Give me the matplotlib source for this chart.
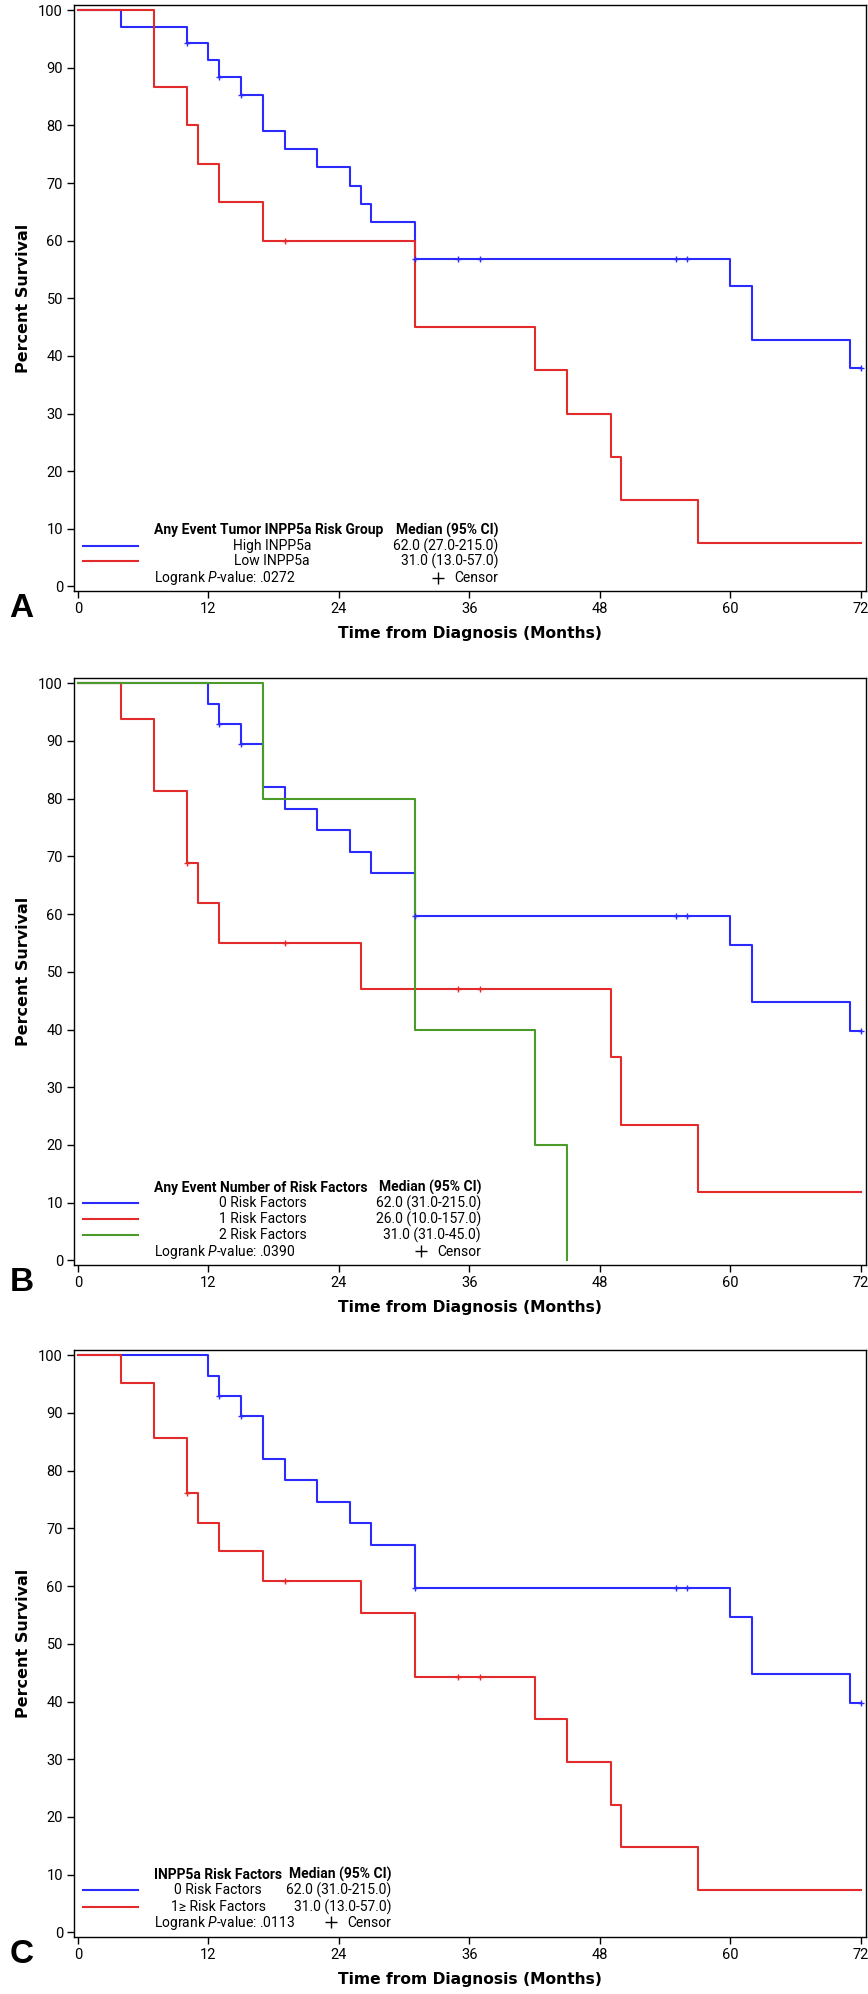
import numpy as np
import matplotlib
matplotlib.use("Agg")
import matplotlib.pyplot as plt

plt.rcParams["font.family"] = ["Roboto", "DejaVu Sans"]
plt.rcParams["mathtext.fontset"] = "custom"
plt.rcParams["mathtext.rm"] = "Roboto"
plt.rcParams["mathtext.it"] = "Roboto:italic"

BLUE = "#2b2bff"
RED = "#e32b2b"
GREEN = "#4c9a2a"

# Panel A: tumor INPP5a risk group
a_high_t = [0, 4, 10, 12, 13, 15, 17, 19, 22, 25, 26, 27, 31, 60, 62, 71, 72]
a_high_s = [100, 97.1, 94.3, 91.4, 88.4, 85.3, 79.0, 75.9, 72.7, 69.5, 66.3, 63.2, 56.9, 52.1, 42.7, 37.9, 37.9]
a_high_c = [10, 13, 15, 31, 35, 37, 55, 56, 72]
a_low_t = [0, 7, 10, 11, 13, 17, 31, 42, 45, 49, 50, 57, 72]
a_low_s = [100, 86.7, 80.0, 73.3, 66.7, 60.0, 45.0, 37.5, 30.0, 22.5, 15.0, 7.5, 7.5]
a_low_c = [19]

# Panel B: number of risk factors
b_zero_t = [0, 12, 13, 15, 17, 19, 22, 25, 27, 31, 60, 62, 71, 72]
b_zero_s = [100, 96.4, 93.0, 89.4, 82.0, 78.2, 74.5, 70.8, 67.1, 59.6, 54.6, 44.7, 39.7, 39.7]
b_zero_c = [13, 15, 31, 55, 56, 72]
b_one_t = [0, 4, 7, 10, 11, 13, 26, 49, 50, 57, 72]
b_one_s = [100, 93.8, 81.3, 68.8, 61.9, 55.0, 47.1, 35.3, 23.5, 11.8, 11.8]
b_one_c = [10, 19, 35, 37]
b_two_t = [0, 17, 31, 42, 45]
b_two_s = [100, 80, 40, 20, 0]
b_two_c = []

# Panel C: INPP5a risk factors
c_zero_t = [0, 12, 13, 15, 17, 19, 22, 25, 27, 31, 60, 62, 71, 72]
c_zero_s = [100, 96.4, 93.0, 89.4, 82.0, 78.3, 74.6, 70.9, 67.1, 59.6, 54.6, 44.7, 39.8, 39.8]
c_zero_c = [13, 15, 31, 55, 56, 72]
c_one_t = [0, 4, 7, 10, 11, 13, 17, 26, 31, 42, 45, 49, 50, 57, 72]
c_one_s = [100, 95.2, 85.7, 76.2, 71.0, 66.1, 60.9, 55.3, 44.3, 36.9, 29.5, 22.1, 14.8, 7.4, 7.4]
c_one_c = [10, 19, 35, 37]

a_header = ("Any Event Tumor INPP5a Risk Group", "Median (95% CI)")
a_groups = ["High INPP5a", "Low INPP5a"]
a_medians = ["62.0 (27.0-215.0)", "31.0 (13.0-57.0)"]
b_header = ("Any Event Number of Risk Factors", "Median (95% CI)")
b_groups = ["0 Risk Factors", "1 Risk Factors", "2 Risk Factors"]
b_medians = ["62.0 (31.0-215.0)", "26.0 (10.0-157.0)", "31.0 (31.0-45.0)"]
c_header = ("INPP5a Risk Factors", "Median (95% CI)")
c_groups = ["0 Risk Factors", "1\u2265 Risk Factors"]
c_medians = ["62.0 (31.0-215.0)", "31.0 (13.0-57.0)"]
pvals = [".0272", ".0390", ".0113"]

xticks = [0, 12, 24, 36, 48, 60, 72]
yticks = list(range(0, 101, 10))


def curve(ax, t, s, c, color):
    ax.step(t, s, where="post", color=color, lw=1.5, zorder=3)
    t = np.asarray(t)
    s = np.asarray(s)
    if c:
        idx = np.searchsorted(t, c, side="right") - 1
        ax.plot(c, s[idx], ls="none", marker="+", ms=5, mew=1.0, color=color, zorder=4)


def legend(ax, header, groups, medians, colors, pval, ys, gx, rx):
    fs = 10
    ax.text(0.101, ys[0], header[0], transform=ax.transAxes, fontsize=fs,
            fontweight="bold", ha="left", va="center")
    ax.text(rx, ys[0], header[1], transform=ax.transAxes, fontsize=fs,
            fontweight="bold", ha="right", va="center")
    for i, (g, m, col) in enumerate(zip(groups, medians, colors)):
        y = ys[1 + i]
        ax.plot([0.011, 0.081], [y, y], transform=ax.transAxes, color=col, lw=1.5)
        ax.text(gx, y, g, transform=ax.transAxes, fontsize=fs, ha="center", va="center")
        ax.text(rx, y, m, transform=ax.transAxes, fontsize=fs, ha="right", va="center")
    ax.text(0.101, ys[-1], "Logrank $\\it{P}$-value: " + pval, transform=ax.transAxes,
            fontsize=fs, ha="left", va="center")
    ax.text(rx, ys[-1], "Censor", transform=ax.transAxes, fontsize=fs,
            ha="right", va="center")
    ax.plot([rx - 0.076], [ys[-1] + 0.001], transform=ax.transAxes, ls="none",
            marker="+", ms=8, mew=1.0, color="black")


fig = plt.figure(figsize=(8.68, 19.94), dpi=100)
rects = [
    [74 / 868, 1 - 591 / 1994, 792 / 868, 586 / 1994],
    [74 / 868, 1 - 1265 / 1994, 792 / 868, 587 / 1994],
    [74 / 868, 1 - 1937 / 1994, 792 / 868, 587 / 1994],
]
axes = [fig.add_axes(r) for r in rects]

curve(axes[0], a_high_t, a_high_s, a_high_c, BLUE)
curve(axes[0], a_low_t, a_low_s, a_low_c, RED)
legend(axes[0], a_header, a_groups, a_medians, [BLUE, RED], pvals[0],
       [0.104, 0.077, 0.051, 0.022], 0.25, 0.536)

curve(axes[1], b_zero_t, b_zero_s, b_zero_c, BLUE)
curve(axes[1], b_one_t, b_one_s, b_one_c, RED)
curve(axes[1], b_two_t, b_two_s, b_two_c, GREEN)
legend(axes[1], b_header, b_groups, b_medians, [BLUE, RED, GREEN], pvals[1],
       [0.132, 0.105, 0.078, 0.051, 0.022], 0.238, 0.514)

curve(axes[2], c_zero_t, c_zero_s, c_zero_c, BLUE)
curve(axes[2], c_one_t, c_one_s, c_one_c, RED)
legend(axes[2], c_header, c_groups, c_medians, [BLUE, RED], pvals[2],
       [0.106, 0.080, 0.051, 0.024], 0.182, 0.401)

for ax, letter in zip(axes, ["A", "B", "C"]):
    ax.set_xlim(-0.37, 72.5)
    ax.set_ylim(-0.8, 100.9)
    ax.set_xticks(xticks)
    ax.set_yticks(yticks)
    ax.tick_params(direction="out", length=5, width=1, labelsize=10.5, pad=3)
    for sp in ax.spines.values():
        sp.set_linewidth(1.0)
    ax.set_xlabel("Time from Diagnosis (Months)", family="DejaVu Sans",
                  fontsize=11.2, fontweight="bold", labelpad=7)
    ax.set_ylabel("Percent Survival", family="DejaVu Sans", fontsize=11.5,
                  fontweight="bold", labelpad=5)
    ax.text(-0.066, -0.03, letter, transform=ax.transAxes, family="Liberation Sans",
            fontsize=24, fontweight="bold", ha="center", va="center")

fig.savefig("out.png", dpi=100)
